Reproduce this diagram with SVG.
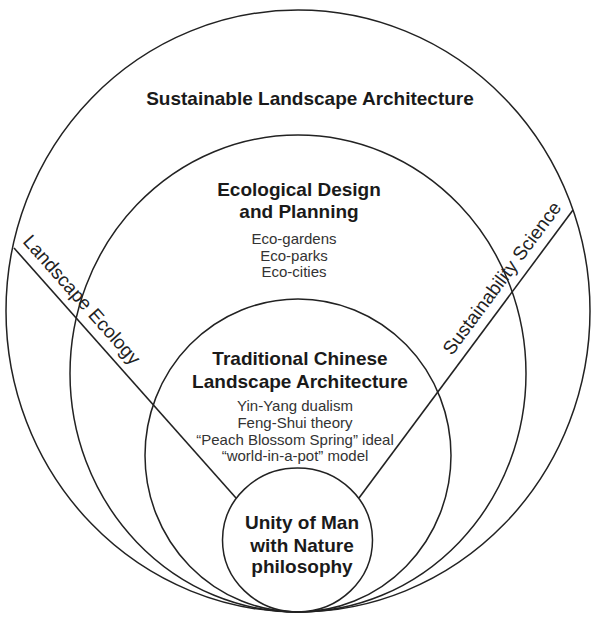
<svg xmlns="http://www.w3.org/2000/svg" width="594" height="619" viewBox="0 0 594 619">
<style>
.ring{fill:none;stroke:#222;stroke-width:1.5}
.conn{fill:none;stroke:#222;stroke-width:1.6}
.h{font-family:"Liberation Sans",Arial,sans-serif;font-weight:bold;font-size:19px;fill:#1a1a1a;text-anchor:middle}
.i{font-family:"Liberation Sans",Arial,sans-serif;font-size:15px;fill:#333;text-anchor:middle}
.s{font-family:"Liberation Sans",Arial,sans-serif;font-size:19px;fill:#222;text-anchor:middle}
</style>
<rect width="594" height="619" fill="#fff"/>
<g id="sustainable-landscape-architecture">
<ellipse class="ring" cx="298" cy="311" rx="292" ry="301"/>
<text class="h" x="310" y="105">Sustainable Landscape Architecture</text>
</g>
<g id="ecological-design">
<ellipse class="ring" cx="298" cy="373.5" rx="228" ry="238.5"/>
<text class="h" x="299" y="196">Ecological Design</text>
<text class="h" x="299" y="218">and Planning</text>
<text class="i" x="294" y="243.5">Eco-gardens</text>
<text class="i" x="294" y="260.5">Eco-parks</text>
<text class="i" x="294" y="277">Eco-cities</text>
</g>
<g id="traditional-chinese">
<ellipse class="ring" cx="298" cy="455.5" rx="153" ry="156.5"/>
<text class="h" x="300" y="365">Traditional Chinese</text>
<text class="h" x="300" y="387.5">Landscape Architecture</text>
<text class="i" x="295" y="411">Yin-Yang dualism</text>
<text class="i" x="295" y="428">Feng-Shui theory</text>
<text class="i" x="295" y="444.5">“Peach Blossom Spring” ideal</text>
<text class="i" x="295" y="461">“world-in-a-pot” model</text>
</g>
<g id="unity">
<ellipse class="ring" cx="297.5" cy="540" rx="75" ry="72"/>
<text class="h" x="302" y="529">Unity of Man</text>
<text class="h" x="302" y="551.5">with Nature</text>
<text class="h" x="302" y="573">philosophy</text>
</g>
<g id="connectors">
<line class="conn" x1="14" y1="248" x2="236" y2="498"/>
<line class="conn" x1="573" y1="210" x2="359" y2="498"/>
<text class="s" transform="translate(77,304) rotate(48.4)" x="0" y="0">Landscape Ecology</text>
<text class="s" transform="translate(507,282) rotate(-53.4)" x="0" y="0">Sustainability Science</text>
</g>
</svg>
